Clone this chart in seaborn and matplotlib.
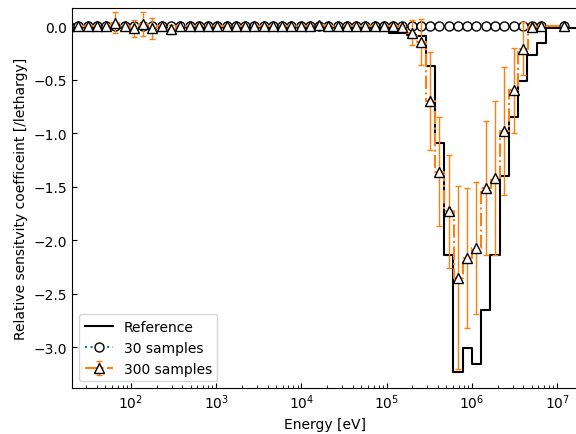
import numpy as np
import pandas as pd
import matplotlib
matplotlib.use("Agg")
import matplotlib.pyplot as plt
import seaborn as sns

# Energy group edges [eV] (ascending)
edges = [12.9, 16.6, 21.4, 27.4, 35.2, 45.2, 58.1, 74.5, 95.7, 122.9, 157.8,
         202.6, 260.2, 334.1, 428.9, 550.7, 707.2, 908.0, 1165.9, 1497.1,
         1922.3, 2468.2, 3169.3, 4069.4, 5225.2, 6709.3, 8614.9, 1.1062e4,
         1.4203e4, 1.8238e4, 2.3418e4, 3.0069e4, 3.8609e4, 4.9575e4,
         6.3655e4, 8.1734e4, 1.0495e5, 1.3476e5, 1.7303e5, 2.2218e5,
         2.8528e5, 3.6631e5, 4.7035e5, 6.0395e5, 7.7548e5, 9.9574e5,
         1.2785e6, 1.6417e6, 2.1080e6, 2.7067e6, 3.4755e6, 4.4626e6,
         5.7301e6, 7.3576e6, 2.0e7]

# Reference sensitivity per group (ascending energy)
ref = [0.0, 0.0, 0.0, 0.0, 0.0, 0.0, 0.0, 0.0, 0.0, 0.0,
       0.0, 0.0, 0.0, 0.0, 0.0, 0.0, 0.0, 0.0, 0.0, 0.0,
       0.0, 0.0, 0.0, 0.0, 0.0, 0.0, 0.0,
       -0.002, -0.003, -0.004, -0.005, -0.006, -0.008, -0.012,
       -0.035, -0.035, -0.065, -0.065, -0.085, -0.09, -0.37, -1.09,
       -2.14, -3.23, -3.01, -3.16, -2.65, -2.14, -1.40, -0.85, -0.51,
       -0.27, -0.16, -0.02]

# 30 samples mean per group
s30 = [0.0, 0.0, 0.0, 0.0, 0.0, 0.0, 0.0, 0.0, 0.0, 0.0,
       0.0, 0.0, 0.0, 0.0, 0.0, 0.0, 0.0, 0.0, 0.0, 0.0,
       0.0, 0.0, 0.0, 0.0, 0.0, 0.0, 0.0, 0.0, 0.0, 0.0,
       0.0, 0.0, 0.0, 0.0, 0.0, 0.0, 0.0, 0.0, 0.0, 0.0,
       0.0, 0.0, 0.0, 0.0, 0.0, 0.0, 0.0, 0.0, 0.0, 0.0,
       0.0, 0.0, 0.0, 0.0]

# 300 samples mean and uncertainty per group
s300 = [0.0, 0.0, 0.0, 0.0, 0.0, 0.0, 0.035, 0.0, -0.02, 0.02,
        -0.02, 0.0, -0.03,
        0.0, 0.0, 0.0, 0.0, 0.0, 0.0, 0.0, 0.0, 0.0, 0.0,
        0.0, 0.0, 0.0, 0.0, 0.0,
        0.01,
        0.0, 0.0, 0.0, 0.0, 0.0, 0.0, 0.0, 0.0,
        -0.01, -0.06, -0.15, -0.70, -1.36, -1.73, -2.35, -2.17, -2.075,
        -1.51, -1.42, -0.98, -0.60, -0.21, -0.01, 0.0,
        0.0]
e300 = [0.005, 0.005, 0.005, 0.005, 0.005, 0.005, 0.10, 0.01, 0.083, 0.11,
        0.10, 0.01, 0.04,
        0.005, 0.005, 0.005, 0.005, 0.005, 0.005, 0.005, 0.005, 0.005,
        0.005, 0.005, 0.005, 0.005, 0.005, 0.005,
        0.01,
        0.005, 0.005, 0.005, 0.005, 0.005, 0.005, 0.005, 0.005,
        0.02, 0.115, 0.215, 0.46, 0.51, 0.53, 0.855, 0.655, 0.615,
        0.625, 0.72, 0.595, 0.395, 0.25, 0.03, 0.02,
        0.01]

edges_a = np.array(edges)
centers = np.sqrt(edges_a[:-1] * edges_a[1:])

fig = plt.figure(figsize=(5.76, 4.35), dpi=100)
ax = fig.add_axes([0.1255, 0.1057, 0.878, 0.8729])
ax.set_xscale("log")

ref_df = pd.DataFrame({"E": edges, "S": ref + [ref[-1]]})
sns.lineplot(data=ref_df, x="E", y="S", ax=ax, color="black", lw=1.5,
             drawstyle="steps-post", estimator=None, sort=False,
             label="Reference")

s30_df = pd.DataFrame({"E": centers, "S": s30})
sns.lineplot(data=s30_df, x="E", y="S", ax=ax, color="#1f77b4", lw=1.5,
             linestyle=":", drawstyle="steps-mid", marker="o", ms=6.5,
             mfc="white", mec="black", mew=1.0, estimator=None, sort=False,
             label="30 samples")

ax.errorbar(centers, s300, yerr=e300, color="#ff7f0e", lw=1.5, ls="-.",
            drawstyle="steps-mid", marker="^", ms=6.5, mfc="white",
            mec="black", mew=1.0, ecolor="#ff7f0e", elinewidth=1.0,
            capsize=2, label="300 samples")

ax.set_xlim(20.5, 1.75e7)
ax.set_ylim(-3.383, 0.168)
ax.set_yticks([-3.0, -2.5, -2.0, -1.5, -1.0, -0.5, 0.0])
ax.tick_params(which="both", direction="in")
ax.set_xlabel("Energy [eV]", fontsize=10)
ax.set_ylabel("Relative sensitvity coefficeint [/lethargy]", fontsize=10)
ax.legend(loc="lower left", fontsize=10)

fig.savefig("out.png", dpi=100)
